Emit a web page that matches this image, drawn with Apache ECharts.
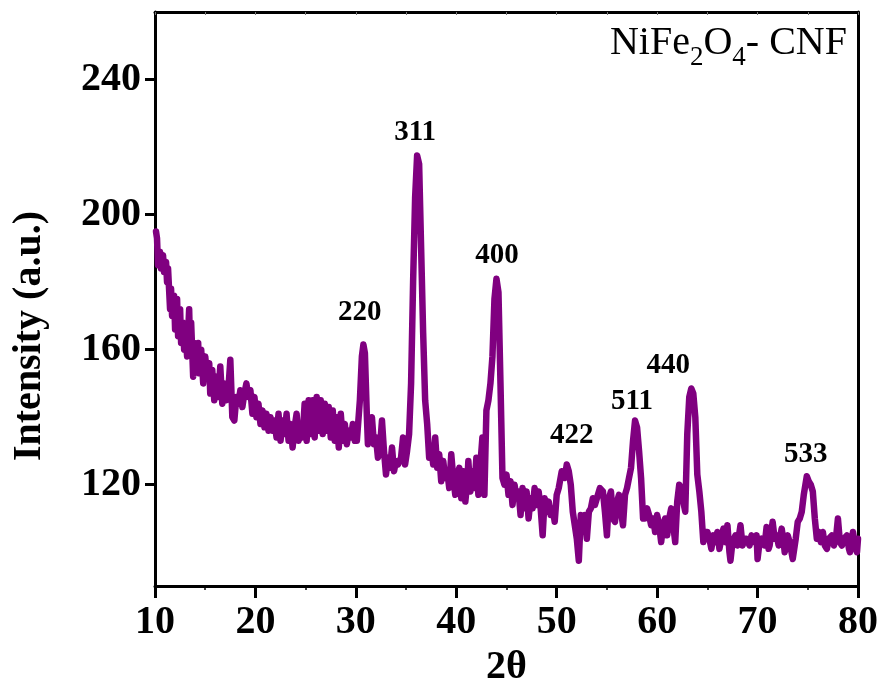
<!DOCTYPE html>
<html>
<head>
<meta charset="utf-8">
<script src="https://cdn.jsdelivr.net/npm/echarts@6/dist/echarts.min.js"></script>
<style>html,body{margin:0;padding:0;background:#fff}#c{width:881px;height:682px}</style>
</head>
<body>
<div id="c"></div>
<script>
// 2θ positions (degrees)
const twoTheta = [
10.1,10.2,10.3,10.5,10.6,10.8,10.9,11.1,11.2,11.3,11.5,11.6,11.7,11.9,12.0,12.2,12.3,12.5,12.6,12.8,12.9,13.0,13.2,13.4,13.5,13.6,13.8,13.9,14.1,14.3,14.4,14.6,14.8,15.0,15.2,15.4,15.5,15.7,15.9,16.1,16.3,16.5,16.7,16.9,17.1,17.3,17.5,17.7,17.9,18.1,18.3,18.5,18.7,18.9,19.1,19.3,19.5,19.7,19.9,
20.1,20.3,20.5,20.7,20.9,21.1,21.3,21.5,21.7,21.9,22.1,22.3,22.5,22.7,22.9,23.1,23.3,23.5,23.7,23.9,24.1,24.3,24.5,24.7,24.9,25.1,25.3,25.5,25.7,25.9,26.1,26.3,26.5,26.7,26.9,27.1,27.3,27.5,27.7,27.9,28.1,28.3,28.5,28.7,28.9,29.1,29.3,29.5,29.7,29.9,
30.1,30.4,30.6,30.75,30.9,31.1,31.2,31.4,31.6,31.8,32.0,32.2,32.4,32.6,32.8,33.0,33.2,33.4,33.6,33.8,34.0,34.2,34.5,34.7,34.9,35.1,35.3,35.5,35.7,35.9,36.1,36.3,36.5,36.7,36.9,37.1,37.3,37.5,37.7,37.9,38.1,38.3,38.5,38.7,38.9,39.1,39.3,39.5,39.7,39.9,
40.1,40.3,40.5,40.7,40.9,41.1,41.2,41.4,41.6,41.8,42.0,42.2,42.4,42.6,42.8,43.0,43.2,43.4,43.6,43.8,44.0,44.2,44.4,44.6,44.8,45.0,45.2,45.4,45.6,45.8,46.0,46.2,46.4,46.6,46.8,47.0,47.2,47.4,47.6,47.8,48.0,48.2,48.4,48.6,48.8,49.0,49.2,49.4,49.6,49.8,
50.0,50.2,50.5,50.8,51.0,51.2,51.4,51.6,51.8,52.0,52.2,52.4,52.6,52.8,53.0,53.2,53.4,53.6,53.8,54.0,54.3,54.6,54.8,55.0,55.2,55.4,55.6,55.8,56.0,56.2,56.4,56.6,56.8,57.0,57.2,57.4,57.6,57.8,58.0,58.2,58.4,58.6,58.8,59.0,59.2,59.4,59.6,59.8,
60.0,60.2,60.4,60.6,60.8,61.0,61.2,61.4,61.6,61.8,62.0,62.2,62.4,62.6,62.8,63.0,63.2,63.4,63.6,63.8,64.0,64.2,64.4,64.6,64.8,65.0,65.2,65.4,65.6,65.8,66.0,66.2,66.4,66.6,66.8,67.0,67.2,67.3,67.5,67.8,68.0,68.3,68.5,68.7,68.9,69.2,69.4,69.7,69.9,
70.0,70.2,70.4,70.7,70.9,71.1,71.2,71.5,71.7,71.9,72.1,72.4,72.6,72.7,73.0,73.2,73.5,73.8,74.0,74.2,74.4,74.6,74.9,75.1,75.3,75.5,75.7,75.9,76.1,76.3,76.5,76.7,76.9,77.1,77.4,77.6,77.8,78.0,78.2,78.4,78.6,78.9,79.1,79.2,79.4,79.5,79.7,79.9,80.0
];
// Intensity (a.u.)
const intensity = [
195,193,185,189,184,188,183,186,180,184,172,178,170,176,166,175,164,172,162,168,160,166,158,172,160,168,152,162,155,162,153,160,150,158,152,156,147,154,145,152,146,155,144,150,145,148,157,140,139,146,144,148,143,147,150,146,148,141,146,
140,144,138,142,137,141,136,140,136,139,134,141,133,139,135,141,133,138,131,137,141,133,137,134,144,133,145,135,145,134,146,136,145,135,144,136,143,134,142,133,140,131,141,133,138,132,136,134,138,133,
133,145,158,161.5,159,140,132,136,140,132,134,128,131,139,130,123,128,125,131,124,127,126,128,134,126,130,135,150,180,205,217.5,215,190,165,145,138,128,131,126,134,125,129,121,127,122,124,119,129,122,117,
123,125,116,124,115,121,127,118,124,119,128,117,126,134,117,142,145,150,158,175,181,177,150,122,120,123,117,121,114,120,116,118,111,119,113,118,110,116,113,119,114,118,113,105,116,112,115,111,113,109,
117,119,124,122,126,124,120,112,108,104,97.5,111,107,111,104,112,113,116,114,116,119,118,112,105,116,118,110,109,115,117,112,108,117,119,122,125,133,139,137,130,122,110,110,113,111,108,110,106,
111,108,103,108,110,105,110,113,108,103,115,120,119,115,112,135,146,148.5,147,140,123,118,112,103,106,106,104,101,105,103,106,101,104,107,103,108,100,97.5,103,105,102,108,102,104,104,102,105,103,105,
98,103,104,102,107.5,101,102,109,104,105,102,107,103,100,105,103,98,104,109,110,112,117,122.5,121,120,118,110,104,106,103,106,102,101,104,105,102,104,110,103,102,104,105,101,100,104,106,102,100,104
];
// Peak (hkl) annotations
const peakLabels = ['220','311','400','422','511','440','533'];
const peakLabelX = [30.4, 35.9, 44.05, 51.5, 57.5, 61.1, 74.8];
const peakLabelY = [171.1, 224.3, 188, 134.5, 144.5, 155.2, 128.9];
// axis ticks
const xTicks = [10,20,30,40,50,60,70,80];
const yTicks = [120,160,200,240];

const FONT = "'Liberation Serif','Times New Roman',serif";
const chart = echarts.init(document.getElementById('c'), null, {renderer:'canvas'});
const lineData = twoTheta.map((x,i)=>[x,intensity[i]]);
const peakData = peakLabels.map((t,i)=>({value:[peakLabelX[i],peakLabelY[i]], name:t}));

chart.setOption({
  animation:false,
  backgroundColor:'#fff',
  title:{
    text:'NiFe{sub|2}O{sub|4}- CNF',
    right:34, top:15, padding:0,
    textStyle:{
      fontFamily:FONT, fontSize:40, fontWeight:'normal', color:'#000',
      lineHeight:56,
      rich:{
        sub:{fontFamily:FONT, fontSize:27, color:'#000', verticalAlign:'bottom', lineHeight:56}
      }
    }
  },
  grid:{left:155, right:23, top:12, bottom:96, containLabel:false, outerBoundsMode:'none'},
  xAxis:[{
    type:'value', min:10, max:80, interval:10,
    name:'2θ', nameLocation:'middle', nameGap:62,
    nameTextStyle:{fontFamily:FONT, fontSize:40, fontWeight:'bold', color:'#000'},
    axisLine:{show:true, onZero:false, lineStyle:{color:'#000', width:3}},
    axisTick:{show:true, inside:false, length:12, lineStyle:{color:'#000', width:3}},
    minorTick:{show:true, splitNumber:2, length:4, lineStyle:{color:'#000', width:1.5}},
    axisLabel:{fontFamily:FONT, fontSize:40, fontWeight:'bold', color:'#000', margin:17},
    splitLine:{show:false}
  },{
    type:'value', position:'top', min:10, max:80, interval:5,
    axisLine:{show:true, onZero:false, lineStyle:{color:'#000', width:3}},
    axisTick:{show:true, inside:true, length:3, lineStyle:{color:'#777', width:1}},
    axisLabel:{show:false}, splitLine:{show:false}
  }],
  yAxis:[{
    type:'value', min:90, max:260,
    name:'Intensity (a.u.)', nameLocation:'middle', nameGap:105, nameRotate:90,
    nameTextStyle:{fontFamily:FONT, fontSize:40, fontWeight:'bold', color:'#000', padding:[0,74,0,0]},
    axisLine:{show:true, onZero:false, lineStyle:{color:'#000', width:3}},
    axisTick:{show:true, inside:false, length:10, customValues:yTicks, lineStyle:{color:'#000', width:3}},
    axisLabel:{fontFamily:FONT, fontSize:40, fontWeight:'bold', color:'#000', margin:14, customValues:yTicks},
    splitLine:{show:false}
  },{
    type:'value', position:'right', min:90, max:260,
    axisLine:{show:true, onZero:false, lineStyle:{color:'#000', width:3}},
    axisTick:{show:false}, axisLabel:{show:false}, splitLine:{show:false}
  }],
  series:[{
    type:'line', data:lineData, showSymbol:false, symbol:'none',
    lineStyle:{color:'#800080', width:6.5, join:'round', cap:'round'},
    clip:true, z:2
  },{
    type:'scatter', data:peakData, symbolSize:0, silent:true,
    itemStyle:{opacity:1, color:'#000'},
    label:{show:true, position:'inside', formatter:'{b}', opacity:1,
      fontFamily:FONT, fontSize:29, fontWeight:'bold', color:'#000', textBorderWidth:0},
    emphasis:{disabled:true},
    z:3
  }]
});
</script>
</body>
</html>
